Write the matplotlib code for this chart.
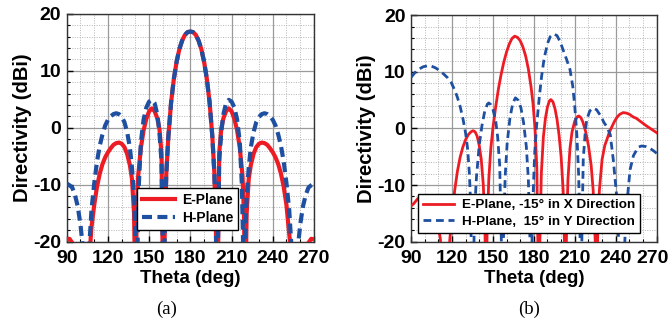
import matplotlib
matplotlib.use("Agg")
import matplotlib.pyplot as plt
from matplotlib.ticker import MultipleLocator
from matplotlib.transforms import ScaledTranslation

# ---------------- data: panel (a) ----------------
theta_a_e = [90, 92, 94, 96, 100, 104, 107, 108, 110, 112, 114, 116, 118, 120, 122, 124, 126, 128,
             130, 132, 134, 136, 137.5, 139, 140, 141, 142, 144, 146, 148, 150, 152, 154, 156, 157.5,
             159, 160.2, 161.5, 162.5, 164, 166, 168, 170, 172, 174, 176, 178, 180,
             182, 184, 186, 188, 190, 192, 194, 196, 197.5, 198.5, 199.8, 201, 202.5, 204, 206, 208,
             210, 212, 214, 216, 218, 219, 220, 221, 222.5, 224, 226, 228, 230, 232, 234, 236, 238,
             240, 242, 244, 246, 248, 250, 251.5, 253, 256, 260, 264, 266, 268, 270]
dir_a_e = [-19.6, -19.5, -20.2, -22, -30, -30, -21, -17.5, -13.6, -10.4, -8.1, -6.4, -5.2, -4.3, -3.6, -3.0, -2.7, -2.6,
           -2.8, -3.4, -4.6, -6.6, -9, -15, -30, -15, -8.5, -3.5, -0.4, 1.6, 2.9, 3.4, 2.9, 1.6, -0.2,
           -4.5, -30, -17, -8, -1.5, 4.5, 8.6, 11.6, 13.8, 15.3, 16.3, 16.8, 16.9,
           16.8, 16.3, 15.3, 13.8, 11.6, 8.6, 4.5, -1.5, -8, -17, -30, -4.5, -0.2, 1.6, 2.9, 3.4,
           2.9, 1.6, -0.4, -3.5, -8.5, -15, -30, -15, -9, -6.6, -4.6, -3.4, -2.8, -2.6, -2.7, -3.0, -3.6,
           -4.3, -5.2, -6.4, -8.1, -10.4, -13.6, -17.5, -21, -30, -30, -22, -20.2, -19.5, -19.6]

theta_a_h = [90, 92, 94, 96, 98, 100, 101.5, 103, 105, 106.5, 108, 110, 112, 114, 116, 118, 120, 122, 124,
             126, 128, 130, 132, 134, 136, 137.5, 139, 140.3, 141, 141.7, 142.5, 144, 146, 148, 150, 152,
             154, 156, 157.5, 159, 160.5, 161.5, 162.5, 164, 166, 168, 170, 172, 174, 176, 178, 180,
             182, 184, 186, 188, 190, 192, 194, 196, 197.5, 198.5, 199.5, 201, 202.5, 204, 206, 208,
             210, 212, 214, 216, 217.5, 218.3, 219, 219.7, 221, 222.5, 224, 226, 228, 230, 232, 234,
             236, 238, 240, 242, 244, 246, 248, 250, 252, 253.5, 255, 257, 258.5, 260, 262, 264, 266,
             268, 270]
dir_a_h = [-9.8, -10.1, -10.5, -11.8, -13.8, -17, -20.5, -26, -26, -20.5, -14.5, -9.8, -6, -3.2, -1.2, 0.4, 1.4, 2.0, 2.4,
           2.55, 2.4, 1.9, 1.0, -0.8, -3.5, -7, -12, -21, -30, -19, -10, -2.5, 1.5, 3.6, 4.6, 4.9,
           4.3, 2.3, -0.8, -6, -30, -17, -8, -1.5, 4.5, 8.6, 11.6, 13.8, 15.3, 16.3, 16.8, 16.9,
           16.8, 16.3, 15.3, 13.8, 11.6, 8.6, 4.5, -1.5, -8, -17, -30, -6, -0.8, 2.3, 4.3, 4.9,
           4.6, 3.6, 1.5, -2.5, -10, -19, -30, -21, -12, -7, -3.5, -0.8, 1.0, 1.9, 2.4, 2.55,
           2.4, 2.0, 1.4, 0.4, -1.2, -3.2, -6, -9.8, -14.5, -20.5, -26, -26, -20.5, -17, -13.8, -11.8, -10.5,
           -10.1, -9.8]

# ---------------- data: panel (b) ----------------
theta_b_e = [90, 92, 95, 98, 101, 104, 107, 109.5, 111.5, 113, 115, 117, 118.5, 120, 122, 124, 126, 128,
             130, 132, 134, 135.5, 137, 138.5, 140, 141.5, 143, 144.2, 145, 145.8, 147, 148.5, 150, 152,
             154, 156, 158, 160, 162, 164, 166, 168, 170, 172, 174, 176, 178, 179.5, 181, 182.2, 183.5,
             184.6, 185.5, 187, 188.5, 190, 191.5, 192.5, 194, 195.5, 197, 198.5, 200, 201.5, 202.6,
             203.2, 204, 205, 206.5, 208, 210, 212, 213, 214.5, 216, 218, 220, 222, 223.5, 225, 225.8,
             226.8, 228, 230, 232, 233.5, 235, 237, 239, 241, 243, 245.5, 248, 250, 253, 255, 257.5, 260,
             262.5, 265, 267.5, 270]
dir_b_e = [-13.7, -13.3, -12.4, -12.1, -12.2, -12.9, -14.3, -16.5, -19.5, -24, -30, -24, -19.5, -15.5, -11, -7.6, -5.1, -3.3,
           -2.0, -1.1, -0.6, -0.4, -0.6, -1.4, -3, -5.5, -10, -18, -30, -18, -9, -3.5, 0, 3.7,
           6.9, 9.5, 11.7, 13.5, 14.9, 15.9, 16.3, 16.1, 15.5, 14.4, 12.8, 10.5, 7.3, 4.2, -0.5, -7, -30,
           -18, -8, -1.5, 1.8, 3.8, 4.9, 5.1, 4.7, 3.5, 1.6, -1.2, -5, -11, -22,
           -30, -18, -9, -3.5, -0.6, 1.3, 2.1, 2.2, 1.9, 1.1, -0.6, -3, -6.5, -11, -20, -30,
           -19, -11, -5.5, -3, -2.0, -0.9, 0.2, 1.2, 2.0, 2.5, 2.8, 2.7, 2.5, 2.0, 1.8, 1.35, 0.9,
           0.45, 0.05, -0.35, -0.75]

theta_b_h = [90, 93, 96, 99, 102, 105, 108, 111, 114, 117, 119.5, 122, 124, 126, 128, 130, 131.5, 132.8,
             133.8, 134.5, 135.5, 136.5, 138, 140, 142, 144, 146, 147, 148.5, 150, 152, 153.5, 155, 156.2,
             156.8, 157.8, 159, 160.5, 162.5, 164.5, 166.5, 168.5, 170.5, 172.5, 174.5, 176, 177.2, 178,
             179, 180.5, 182, 184, 185.7, 187.5, 190, 192, 194.5, 197, 199.5, 202, 204, 206.5, 208.5,
             210, 211.5, 212.8, 213.8, 214.5, 215.3, 216.2, 217.5, 218.7, 221, 223.5, 226, 229, 231.5,
             233.5, 236, 238.2, 240.7, 242, 243.5, 245, 246.5, 247.5, 250.5, 253, 256.5, 259, 262, 265,
             268, 270]
dir_b_h = [9.0, 9.9, 10.5, 10.9, 11.05, 11.0, 10.7, 10.2, 9.6, 8.9, 8.1, 6.8, 5.5, 3.9, 1.8, -0.8, -3.6, -8,
           -14, -30, -30, -15, -8.5, -3, 0.5, 3, 4.3, 4.5, 4.2, 3.4, 1.5, -1.5, -6.5, -20,
           -30, -19, -8.5, -2.5, 1.8, 4.4, 5.4, 5.0, 3.7, 1.0, -3.2, -9, -20, -30,
           -15, -5, 0.4, 5.5, 9.2, 12.3, 15.0, 16.2, 16.7, 16.4, 15.2, 13.5, 12.2, 10.4, 7.5,
           3.9, -1, -8, -18, -30, -18, -5.5, -1.2, 1.5, 3.1, 3.6, 3.3, 2.2, 1.0,
           0.3, -1.1, -5.5, -12, -19, -30, -30, -21, -15, -7.3, -4.8, -3.3, -3.1, -3.2, -3.5,
           -4.0, -4.4]

x_ticks = [90, 120, 150, 180, 210, 240, 270]
y_ticks = [-20, -10, 0, 10, 20]
labels_a = ["E-Plane", "H-Plane"]
labels_b = ["E-Plane, -15\u00b0 in X Direction", "H-Plane,  15\u00b0 in Y Direction"]
captions = ["(a)", "(b)"]

RED = "#ed1c24"
BLUE = "#1f4fa0"

plt.rcParams['font.family'] = ['Liberation Sans', 'DejaVu Sans']
plt.rcParams['axes.unicode_minus'] = False

fig = plt.figure(figsize=(6.70, 3.31), dpi=100)
ax_a = fig.add_axes([0.0996, 0.270, 0.369, 0.688])
ax_b = fig.add_axes([0.6134, 0.270, 0.3667, 0.684])


def style(ax):
    ax.set_xlim(90, 270)
    ax.set_ylim(-20, 20)
    ax.set_xticks(x_ticks)
    ax.set_yticks(y_ticks)
    ax.xaxis.set_minor_locator(MultipleLocator(10))
    ax.yaxis.set_minor_locator(MultipleLocator(2))
    ax.grid(True, which='major', color='#9a9a9a', lw=0.9, ls='-', zorder=0)
    ax.grid(True, which='minor', color='#b5b5b5', lw=0.7, ls=(0, (1, 1.5)), zorder=0)
    ax.set_axisbelow(True)
    ax.tick_params(which='both', direction='in', top=False, right=False,
                   labelsize=14)
    ax.tick_params(axis='x', which='major', pad=6)
    ax.tick_params(axis='y', which='major', pad=4)
    ax.tick_params(which='major', length=4, width=1)
    ax.tick_params(which='minor', length=2.5, width=0.8)
    for lab in ax.get_xticklabels() + ax.get_yticklabels():
        lab.set_fontweight('bold')
    for sp in ax.spines.values():
        sp.set_color('#333333')
        sp.set_linewidth(1.0)
    ax.set_xlabel("Theta (deg)", fontsize=13.5, fontweight='bold', labelpad=2)
    ax.set_ylabel("Directivity (dBi)", fontsize=14.5, fontweight='bold', labelpad=1)


style(ax_a)
ax_a.plot(theta_a_e, dir_a_e, color=RED, lw=3.0, label=labels_a[0], zorder=3)
ax_a.plot(theta_a_h, dir_a_h, color=BLUE, lw=3.0, dashes=(2.4, 1.3), label=labels_a[1], zorder=4)
leg_a = ax_a.legend(loc='lower left', bbox_to_anchor=(0.283, 0.051), borderaxespad=0,
                    prop={'weight': 'bold', 'size': 10}, frameon=True, fancybox=False,
                    edgecolor='black', framealpha=1, handlelength=2.4, handletextpad=0.5,
                    borderpad=0.35, labelspacing=0.3)
leg_a.get_frame().set_linewidth(1.0)

style(ax_b)
ax_b.plot(theta_b_e, dir_b_e, color=RED, lw=2.0, label=labels_b[0], zorder=3)
ax_b.plot(theta_b_h, dir_b_h, color=BLUE, lw=2.0, dashes=(2.8, 1.7), label=labels_b[1], zorder=4)
leg_b = ax_b.legend(loc='lower left', bbox_to_anchor=(0.0297, 0.04), borderaxespad=0,
                    prop={'weight': 'bold', 'size': 9.7}, frameon=True, fancybox=False,
                    edgecolor='black', framealpha=1, handlelength=2.3, handletextpad=0.6,
                    borderpad=0.35, labelspacing=0.3)
leg_b.get_frame().set_linewidth(1.0)

# keep the last tick label of panel (b) inside the figure edge
last_lab = ax_b.get_xticklabels()[-1]
last_lab.set_transform(last_lab.get_transform() + ScaledTranslation(-4 / 100, 0, fig.dpi_scale_trans))

fig.text(0.2493, 0.066, captions[0], ha='center', va='center', fontsize=13.5,
         family=['Liberation Serif', 'DejaVu Serif'])
fig.text(0.7896, 0.066, captions[1], ha='center', va='center', fontsize=13.5,
         family=['Liberation Serif', 'DejaVu Serif'])

fig.savefig("out.png", dpi=100)
